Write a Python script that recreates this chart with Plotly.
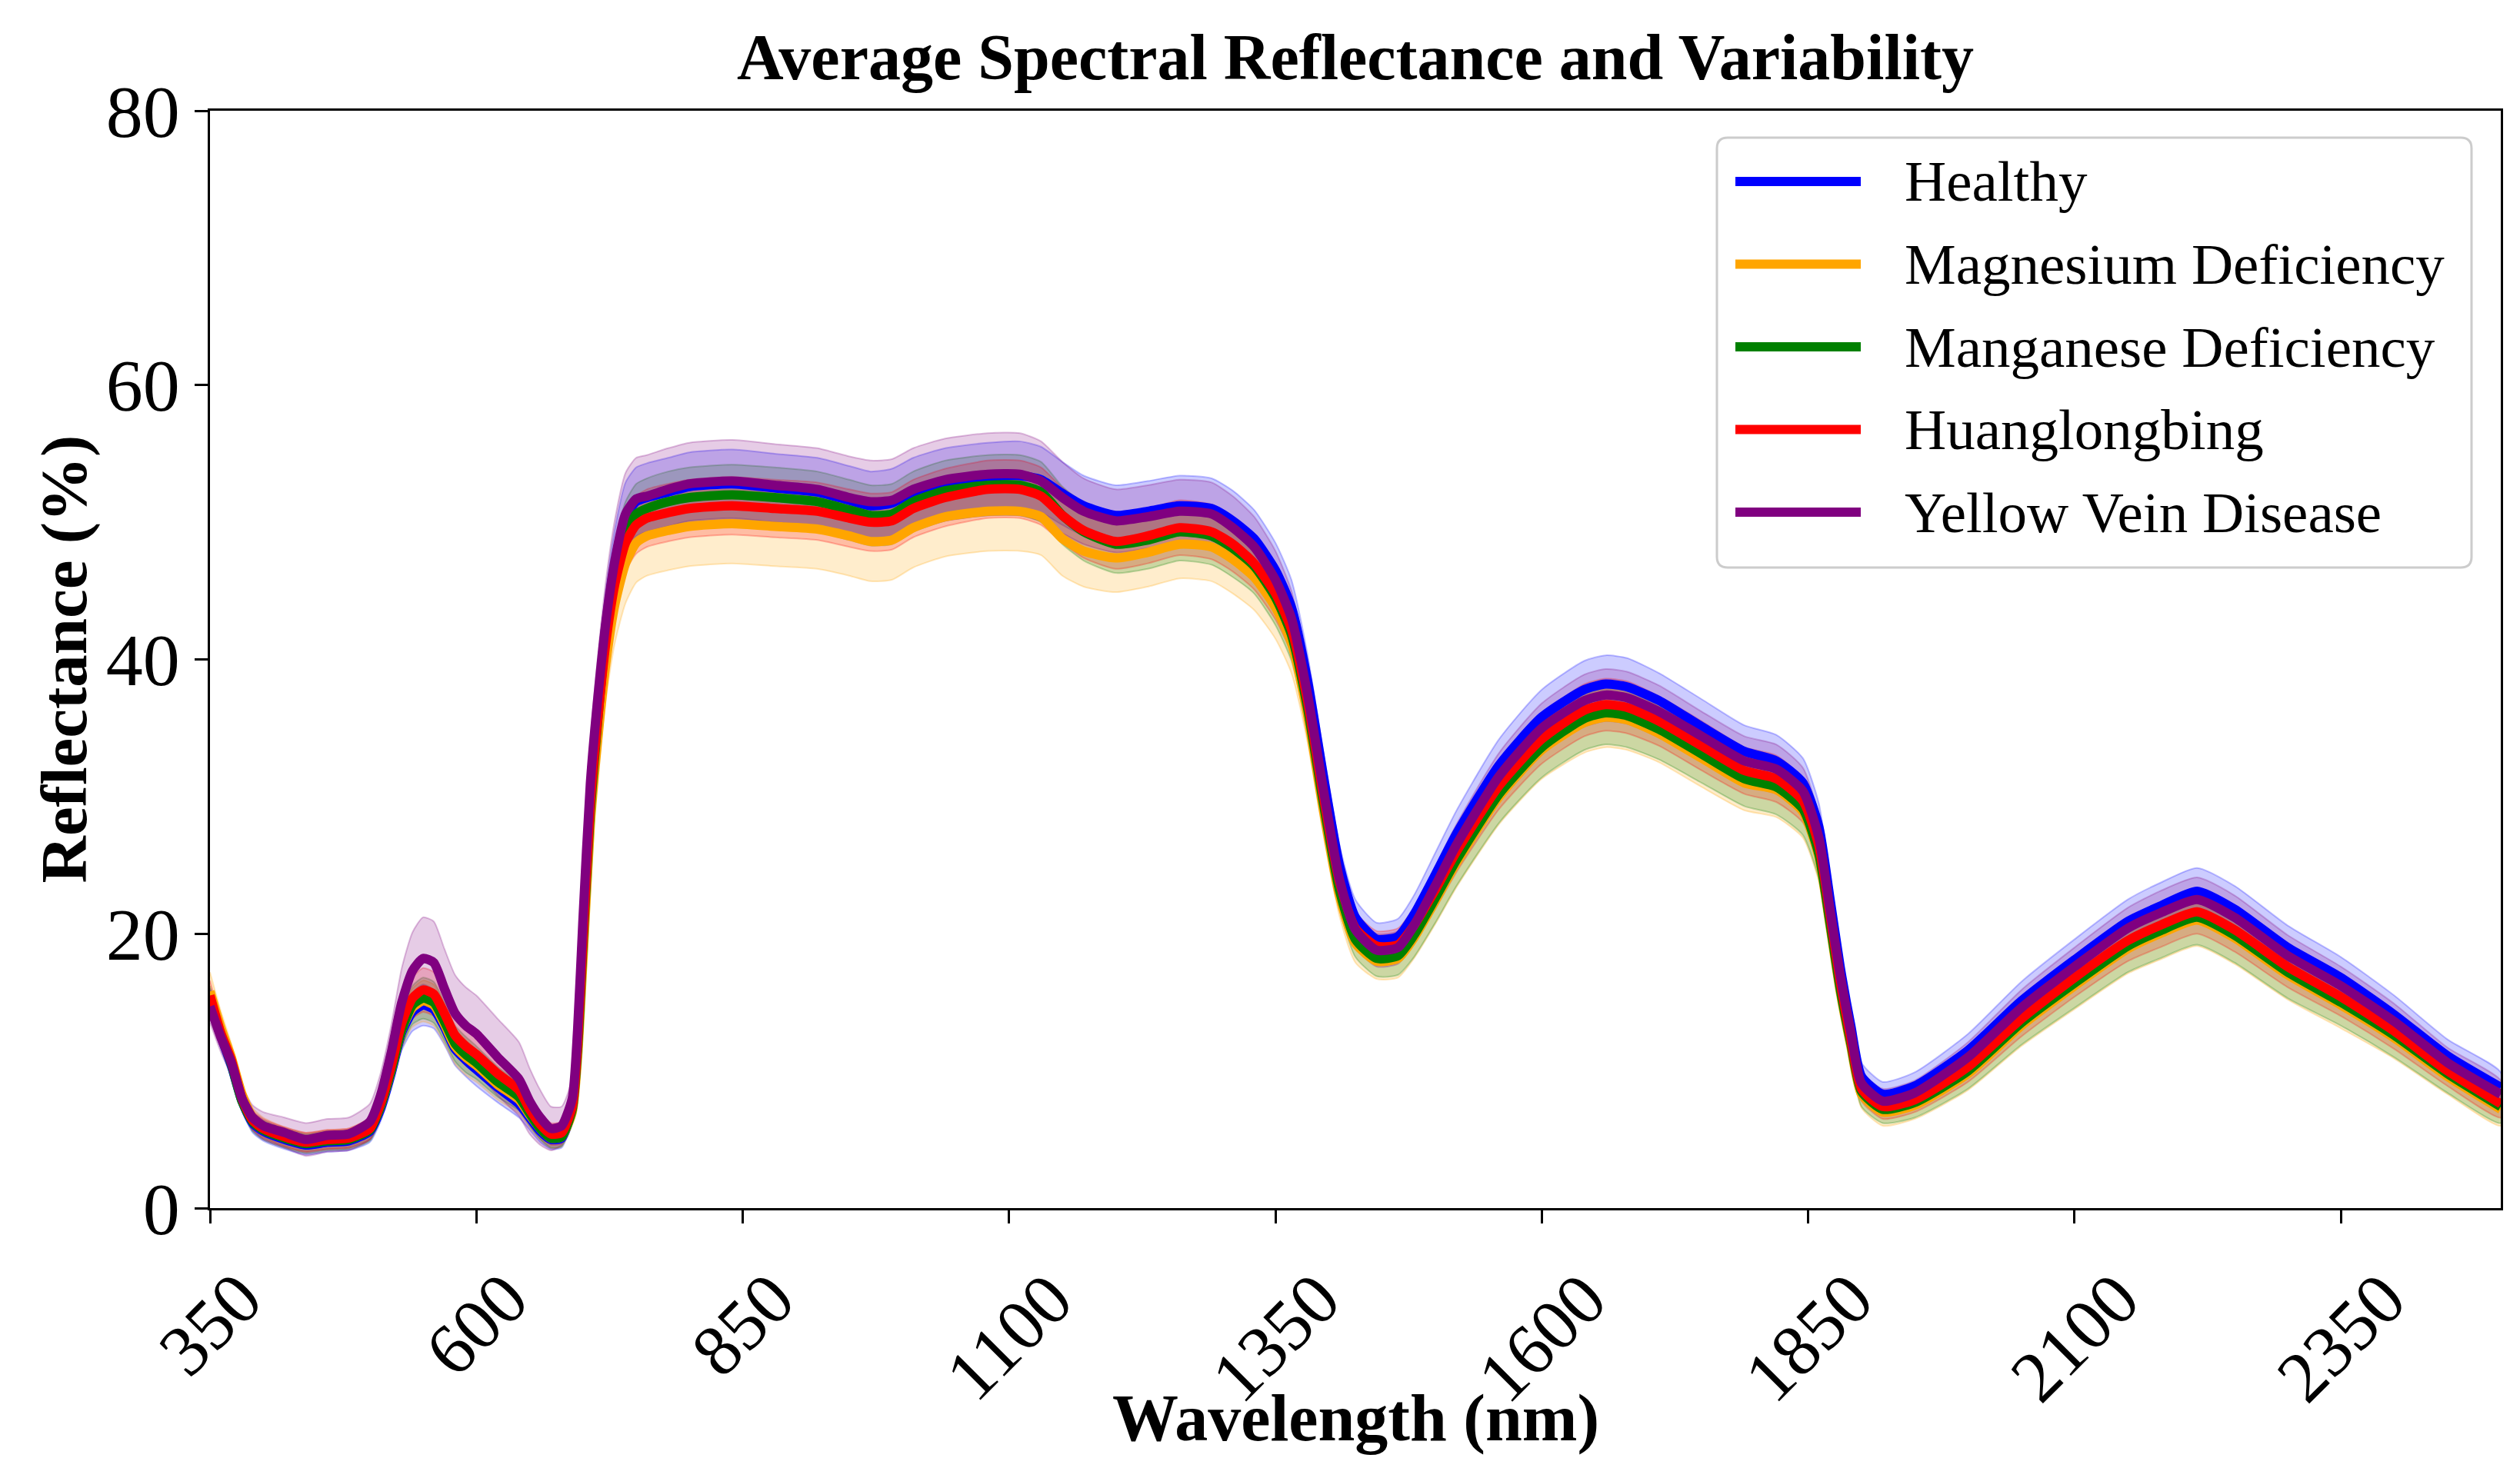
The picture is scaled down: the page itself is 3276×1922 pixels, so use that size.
# %%
import plotly.graph_objects as go

# %%
wavelength = [350, 360, 370, 380, 390, 400, 420, 440, 460, 480,
              500, 510, 520, 530, 540, 550, 560, 570, 580, 590,
              600, 620, 640, 650, 660, 670, 680, 690, 695, 700,
              707, 715, 722, 730, 740, 750, 760, 780, 800, 840,
              880, 920, 950, 970, 990, 1010, 1040, 1080, 1110, 1130,
              1150, 1170, 1200, 1230, 1260, 1290, 1310, 1330, 1350, 1365,
              1380, 1395, 1410, 1425, 1445, 1465, 1480, 1500, 1520, 1560,
              1600, 1640, 1660, 1680, 1710, 1750, 1790, 1820, 1845, 1860,
              1870, 1880, 1890, 1900, 1920, 1950, 2000, 2050, 2100, 2150,
              2180, 2215, 2250, 2300, 2350, 2400, 2450, 2500]

healthy = [15.0, 12.6, 10.4, 7.8, 6.2, 5.6, 5.0, 4.6, 4.8, 4.9,
           5.6, 7.2, 9.8, 12.8, 14.3, 14.8, 14.5, 13.2, 11.6, 10.8,
           10.1, 8.8, 7.6, 6.6, 5.6, 5.0, 5.1, 7.2, 12.0, 20.0,
           30.0, 37.5, 42.8, 47.0, 50.4, 51.5, 51.8, 52.2, 52.6, 52.8,
           52.5, 52.2, 51.6, 51.2, 51.4, 52.2, 52.9, 53.3, 53.4, 53.1,
           52.1, 51.2, 50.5, 50.8, 51.2, 51.0, 50.1, 48.8, 46.5, 43.8,
           38.5, 31.5, 25.0, 21.2, 19.6, 19.8, 21.4, 24.3, 27.3, 32.3,
           35.8, 37.8, 38.2, 38.0, 37.0, 35.1, 33.3, 32.6, 31.0, 27.8,
           22.8, 17.6, 13.3, 9.6, 8.3, 8.9, 11.5, 15.1, 18.1, 20.9,
           22.0, 23.1, 21.8, 19.0, 16.8, 14.1, 11.1, 8.8]
healthy_std = [1.0, 0.9, 0.8, 0.7, 0.7, 0.7, 0.7, 0.7, 0.7, 0.7,
               0.8, 0.9, 1.1, 1.3, 1.4, 1.5, 1.4, 1.3, 1.2, 1.2,
               1.2, 1.1, 1.0, 0.9, 0.8, 0.7, 0.7, 0.8, 1.2, 1.8,
               2.2, 2.4, 2.5, 2.5, 2.5, 2.5, 2.5, 2.5, 2.5, 2.5,
               2.5, 2.5, 2.5, 2.5, 2.5, 2.5, 2.5, 2.5, 2.5, 2.4,
               2.3, 2.2, 2.2, 2.2, 2.2, 2.2, 2.2, 2.1, 2.0, 2.0,
               1.9, 1.7, 1.5, 1.3, 1.2, 1.3, 1.4, 1.6, 1.7, 1.9,
               2.0, 2.1, 2.1, 2.1, 2.0, 2.0, 1.9, 1.9, 1.8, 1.7,
               1.5, 1.3, 1.1, 1.0, 0.9, 1.0, 1.2, 1.4, 1.5, 1.6,
               1.7, 1.7, 1.7, 1.6, 1.5, 1.4, 1.2, 1.1]

magnesium = [15.8, 13.2, 11.0, 8.3, 6.6, 5.9, 5.2, 4.8, 5.0, 5.1,
             5.8, 7.4, 10.0, 13.0, 14.6, 15.1, 14.8, 13.4, 11.8, 11.0,
             10.4, 9.0, 7.9, 6.8, 5.8, 5.1, 5.2, 7.0, 11.0, 18.0,
             28.0, 35.0, 40.0, 44.0, 47.0, 48.5, 49.0, 49.4, 49.7, 49.9,
             49.7, 49.5, 49.0, 48.6, 48.7, 49.6, 50.4, 50.8, 50.8, 50.4,
             48.8, 47.9, 47.4, 47.8, 48.4, 48.2, 47.3, 46.0, 43.8, 41.2,
             36.0, 29.0, 22.8, 19.3, 18.0, 18.2, 19.7, 22.4, 25.2, 30.0,
             33.4, 35.4, 35.8, 35.6, 34.6, 32.8, 31.0, 30.5, 28.9, 25.6,
             20.8, 15.8, 11.8, 8.3, 7.0, 7.5, 9.8, 13.3, 16.2, 18.9,
             20.0, 21.0, 19.7, 17.0, 14.8, 12.4, 9.6, 7.2]
magnesium_std = [1.4, 1.2, 1.0, 0.8, 0.7, 0.7, 0.7, 0.7, 0.7, 0.7,
                 0.8, 0.9, 1.1, 1.3, 1.4, 1.5, 1.5, 1.4, 1.3, 1.3,
                 1.2, 1.1, 1.0, 0.9, 0.8, 0.7, 0.7, 0.8, 1.2, 1.8,
                 2.2, 2.5, 2.7, 2.8, 2.9, 2.9, 2.9, 2.9, 2.9, 2.9,
                 2.9, 2.9, 2.9, 2.9, 2.9, 2.9, 2.9, 2.9, 2.9, 2.8,
                 2.7, 2.6, 2.5, 2.5, 2.5, 2.5, 2.5, 2.4, 2.3, 2.2,
                 2.0, 1.8, 1.5, 1.4, 1.3, 1.4, 1.5, 1.7, 1.8, 2.0,
                 2.1, 2.2, 2.2, 2.2, 2.1, 2.1, 2.0, 2.0, 1.9, 1.8,
                 1.6, 1.4, 1.2, 1.0, 1.0, 1.0, 1.2, 1.5, 1.7, 1.8,
                 1.9, 1.9, 1.9, 1.8, 1.7, 1.5, 1.3, 1.2]

manganese = [15.2, 12.7, 10.5, 7.8, 6.3, 5.7, 5.1, 4.7, 4.9, 5.0,
             5.7, 7.4, 10.0, 13.0, 14.8, 15.3, 15.0, 13.6, 12.0, 11.2,
             10.6, 9.2, 8.1, 6.9, 5.8, 5.1, 5.2, 7.2, 11.5, 19.0,
             29.0, 36.5, 42.0, 46.3, 49.3, 50.6, 51.0, 51.5, 51.8, 52.0,
             51.8, 51.5, 50.9, 50.5, 50.6, 51.5, 52.3, 52.7, 52.7, 52.2,
             50.5, 49.3, 48.4, 48.7, 49.3, 49.0, 48.1, 46.8, 44.5, 41.8,
             36.5, 29.5, 23.2, 19.6, 18.2, 18.4, 19.9, 22.6, 25.4, 30.2,
             33.6, 35.7, 36.1, 35.9, 34.9, 33.1, 31.3, 30.7, 29.1, 25.8,
             21.0, 16.0, 12.0, 8.5, 7.2, 7.7, 10.0, 13.5, 16.4, 19.1,
             20.2, 21.2, 19.9, 17.2, 15.0, 12.6, 9.8, 7.4]
manganese_std = [1.0, 0.9, 0.8, 0.7, 0.7, 0.7, 0.7, 0.7, 0.7, 0.7,
                 0.8, 0.9, 1.1, 1.3, 1.4, 1.5, 1.5, 1.4, 1.3, 1.3,
                 1.2, 1.1, 1.0, 0.9, 0.8, 0.7, 0.7, 0.8, 1.2, 1.8,
                 2.0, 2.1, 2.2, 2.2, 2.2, 2.2, 2.2, 2.2, 2.2, 2.2,
                 2.2, 2.2, 2.2, 2.2, 2.2, 2.2, 2.2, 2.2, 2.2, 2.2,
                 2.1, 2.1, 2.1, 2.1, 2.1, 2.1, 2.1, 2.0, 2.0, 1.9,
                 1.8, 1.6, 1.4, 1.3, 1.3, 1.4, 1.6, 1.8, 1.9, 2.1,
                 2.2, 2.3, 2.3, 2.3, 2.2, 2.1, 2.0, 2.0, 1.9, 1.8,
                 1.6, 1.4, 1.2, 1.1, 1.0, 1.1, 1.3, 1.6, 1.8, 1.9,
                 2.0, 2.0, 2.0, 1.9, 1.7, 1.6, 1.4, 1.2]

huanglongbing = [15.5, 12.8, 10.8, 8.0, 6.4, 5.8, 5.2, 4.8, 5.0, 5.1,
                 5.8, 7.6, 10.3, 13.5, 15.3, 15.9, 15.6, 14.2, 12.6, 11.8,
                 11.2, 9.8, 8.6, 7.2, 6.1, 5.4, 5.5, 7.4, 12.0, 19.5,
                 29.5, 36.5, 41.5, 45.5, 48.5, 49.8, 50.3, 50.7, 51.0, 51.2,
                 51.0, 50.8, 50.3, 50.0, 50.1, 51.0, 51.8, 52.4, 52.4, 51.9,
                 50.5, 49.4, 48.6, 49.0, 49.6, 49.3, 48.4, 47.0, 44.8, 42.2,
                 37.0, 30.0, 23.8, 20.4, 19.1, 19.2, 20.6, 23.2, 26.0, 30.8,
                 34.2, 36.3, 36.7, 36.5, 35.5, 33.7, 31.9, 31.3, 29.7, 26.4,
                 21.6, 16.5, 12.3, 8.7, 7.4, 7.9, 10.3, 13.8, 16.8, 19.5,
                 20.6, 21.6, 20.3, 17.6, 15.4, 12.9, 10.0, 7.6]
huanglongbing_std = [1.1, 1.0, 0.9, 0.8, 0.7, 0.7, 0.7, 0.7, 0.7, 0.7,
                     0.8, 0.9, 1.1, 1.3, 1.5, 1.6, 1.6, 1.5, 1.4, 1.4,
                     1.3, 1.3, 1.2, 1.0, 0.9, 0.8, 0.8, 0.9, 1.3, 1.8,
                     2.0, 2.1, 2.1, 2.1, 2.1, 2.1, 2.1, 2.1, 2.1, 2.1,
                     2.1, 2.1, 2.1, 2.1, 2.1, 2.1, 2.1, 2.1, 2.1, 2.1,
                     2.0, 2.0, 2.0, 2.0, 2.0, 2.0, 2.0, 1.9, 1.9, 1.8,
                     1.7, 1.5, 1.3, 1.2, 1.1, 1.2, 1.3, 1.4, 1.5, 1.7,
                     1.8, 1.9, 1.9, 1.9, 1.8, 1.8, 1.7, 1.7, 1.6, 1.5,
                     1.4, 1.2, 1.0, 0.9, 0.9, 0.9, 1.1, 1.3, 1.4, 1.5,
                     1.6, 1.6, 1.6, 1.5, 1.4, 1.3, 1.1, 1.0]

yellow_vein = [14.7, 12.5, 10.6, 8.0, 6.6, 6.0, 5.5, 5.0, 5.3, 5.4,
               6.3, 8.2, 11.3, 15.0, 17.3, 18.2, 17.9, 16.0, 14.2, 13.3,
               12.7, 11.0, 9.4, 7.8, 6.6, 5.8, 6.0, 8.0, 13.0, 21.0,
               31.0, 38.0, 43.0, 47.2, 50.6, 51.7, 51.9, 52.4, 52.8, 53.0,
               52.7, 52.4, 51.8, 51.5, 51.6, 52.4, 53.1, 53.5, 53.5, 53.0,
               51.8, 50.8, 50.1, 50.4, 50.8, 50.6, 49.6, 48.2, 45.8, 43.0,
               37.5, 30.5, 24.0, 20.3, 18.8, 19.0, 20.6, 23.5, 26.5, 31.5,
               35.0, 37.0, 37.4, 37.2, 36.2, 34.4, 32.6, 32.0, 30.4, 27.0,
               22.0, 17.0, 12.8, 9.1, 7.8, 8.4, 11.0, 14.6, 17.6, 20.4,
               21.5, 22.5, 21.2, 18.4, 16.2, 13.6, 10.6, 8.3]
yellow_vein_std = [1.2, 1.1, 1.0, 0.9, 0.9, 1.0, 1.1, 1.2, 1.2, 1.2,
                   1.3, 1.6, 2.0, 2.5, 2.8, 3.0, 3.0, 2.9, 2.8, 2.8,
                   2.8, 2.8, 2.7, 2.4, 2.0, 1.6, 1.4, 1.5, 2.0, 2.5,
                   3.0, 3.0, 3.0, 3.0, 3.0, 3.0, 3.0, 3.0, 3.0, 3.0,
                   3.0, 3.0, 3.0, 3.0, 3.0, 3.0, 3.0, 3.0, 3.0, 2.9,
                   2.6, 2.4, 2.3, 2.3, 2.3, 2.3, 2.3, 2.2, 2.1, 2.0,
                   1.9, 1.7, 1.5, 1.3, 1.2, 1.2, 1.3, 1.4, 1.5, 1.7,
                   1.8, 1.9, 1.9, 1.9, 1.9, 1.8, 1.8, 1.8, 1.7, 1.6,
                   1.4, 1.2, 1.0, 0.9, 0.9, 0.9, 1.1, 1.3, 1.4, 1.5,
                   1.6, 1.6, 1.6, 1.5, 1.4, 1.3, 1.1, 1.0]

classes = ['Healthy', 'Magnesium Deficiency', 'Manganese Deficiency',
           'Huanglongbing', 'Yellow Vein Disease']
colors = ['#0000ff', '#ffa500', '#008000', '#ff0000', '#800080']
x_ticks = [350, 600, 850, 1100, 1350, 1600, 1850, 2100, 2350]
y_ticks = [0, 20, 40, 60, 80]

means = [healthy, magnesium, manganese, huanglongbing, yellow_vein]
stds = [healthy_std, magnesium_std, manganese_std, huanglongbing_std, yellow_vein_std]

# %%
FONT = 'Liberation Serif, Times New Roman, serif'
W, H = 3276, 1922
L, R, T, B = 265, 33, 136, 359
PW, PH = W - L - R, H - T - B


def rgba(hex_color, a):
    h = hex_color.lstrip('#')
    return 'rgba(%d,%d,%d,%s)' % (int(h[0:2], 16), int(h[2:4], 16), int(h[4:6], 16), a)


def px_x(p):  # pixel -> paper
    return (p - L) / PW


def px_y(p):
    return (H - B - p) / PH


fig = go.Figure()

# variability bands (mean +- std)
for name, m, s, c in zip(classes, means, stds, colors):
    upper = [a + b for a, b in zip(m, s)]
    lower = [a - b for a, b in zip(m, s)]
    fig.add_trace(go.Scatter(x=wavelength + wavelength[::-1], y=upper + lower[::-1],
                             fill='toself', fillcolor=rgba(c, 0.2),
                             line=dict(color=rgba(c, 0.25), width=2, shape='spline', smoothing=0.6),
                             hoverinfo='skip', showlegend=False))

# mean lines
for name, m, c in zip(classes, means, colors):
    fig.add_trace(go.Scatter(x=wavelength, y=m, mode='lines', name=name,
                             line=dict(color=c, width=12, shape='spline', smoothing=0.6),
                             showlegend=False))

# %%
shapes = []
annotations = []

# hand-made legend box (matplotlib look)
x0, x1 = px_x(2224), px_x(3205)
y0, y1 = px_y(730), px_y(171)
rx, ry = 14 / PW, 14 / PH
path = (f"M {x0 + rx},{y0} L {x1 - rx},{y0} Q {x1},{y0} {x1},{y0 + ry} "
        f"L {x1},{y1 - ry} Q {x1},{y1} {x1 - rx},{y1} L {x0 + rx},{y1} "
        f"Q {x0},{y1} {x0},{y1 - ry} L {x0},{y0 + ry} Q {x0},{y0} {x0 + rx},{y0} Z")
shapes.append(dict(type='path', xref='paper', yref='paper', path=path,
                   line=dict(color='#cccccc', width=3), fillcolor='rgba(255,255,255,0.85)',
                   layer='above'))
for i, (name, c) in enumerate(zip(classes, colors)):
    yy = px_y(228 + i * 107.5)
    shapes.append(dict(type='line', xref='paper', yref='paper', x0=px_x(2248), x1=px_x(2411),
                       y0=yy, y1=yy, line=dict(color=c, width=12), layer='above'))
    annotations.append(dict(x=px_x(2466), y=yy, xref='paper', yref='paper', text=name,
                            showarrow=False, xanchor='left', yanchor='middle',
                            font=dict(family=FONT, size=75, color='black')))

# rotated x tick labels centred under the ticks
for v in x_ticks:
    annotations.append(dict(x=v, xref='x', y=px_y(1625), yref='paper', text=str(v),
                            showarrow=False, textangle=-45, xanchor='center', yanchor='top',
                            font=dict(family=FONT, size=94, color='black')))

# axis titles
annotations.append(dict(x=0.5, y=px_y(1836), xref='paper', yref='paper', text='Wavelength (nm)',
                        showarrow=False, xanchor='center', yanchor='middle',
                        font=dict(family=FONT, size=86, color='black', weight='bold')))
annotations.append(dict(x=px_x(75), y=0.5, xref='paper', yref='paper', text='Reflectance (%)',
                        showarrow=False, xanchor='center', yanchor='middle', textangle=-90,
                        font=dict(family=FONT, size=85, color='black', weight='bold')))

fig.update_layout(
    width=W, height=H,
    margin=dict(l=L, r=R, t=T, b=B, pad=0),
    paper_bgcolor='white', plot_bgcolor='white',
    title=dict(text='Average Spectral Reflectance and Variability', x=0.5, xref='paper',
               y=1 - 66 / H, yref='container', xanchor='center', yanchor='middle',
               font=dict(family=FONT, size=84, color='black', weight='bold')),
    shapes=shapes, annotations=annotations,
    showlegend=False,
)
fig.update_xaxes(range=[350, 2500], tickvals=x_ticks, showticklabels=False,
                 ticks='outside', ticklen=17, tickwidth=3, tickcolor='black',
                 showline=True, linecolor='black', linewidth=3, mirror=True,
                 showgrid=False, zeroline=False)
fig.update_yaxes(range=[0, 80], tickvals=y_ticks,
                 ticks='outside', ticklen=17, tickwidth=3, tickcolor='black',
                 tickfont=dict(family=FONT, size=96, color='black'),
                 showline=True, linecolor='black', linewidth=3, mirror=True,
                 showgrid=False, zeroline=False)

fig.write_html("out.html")
